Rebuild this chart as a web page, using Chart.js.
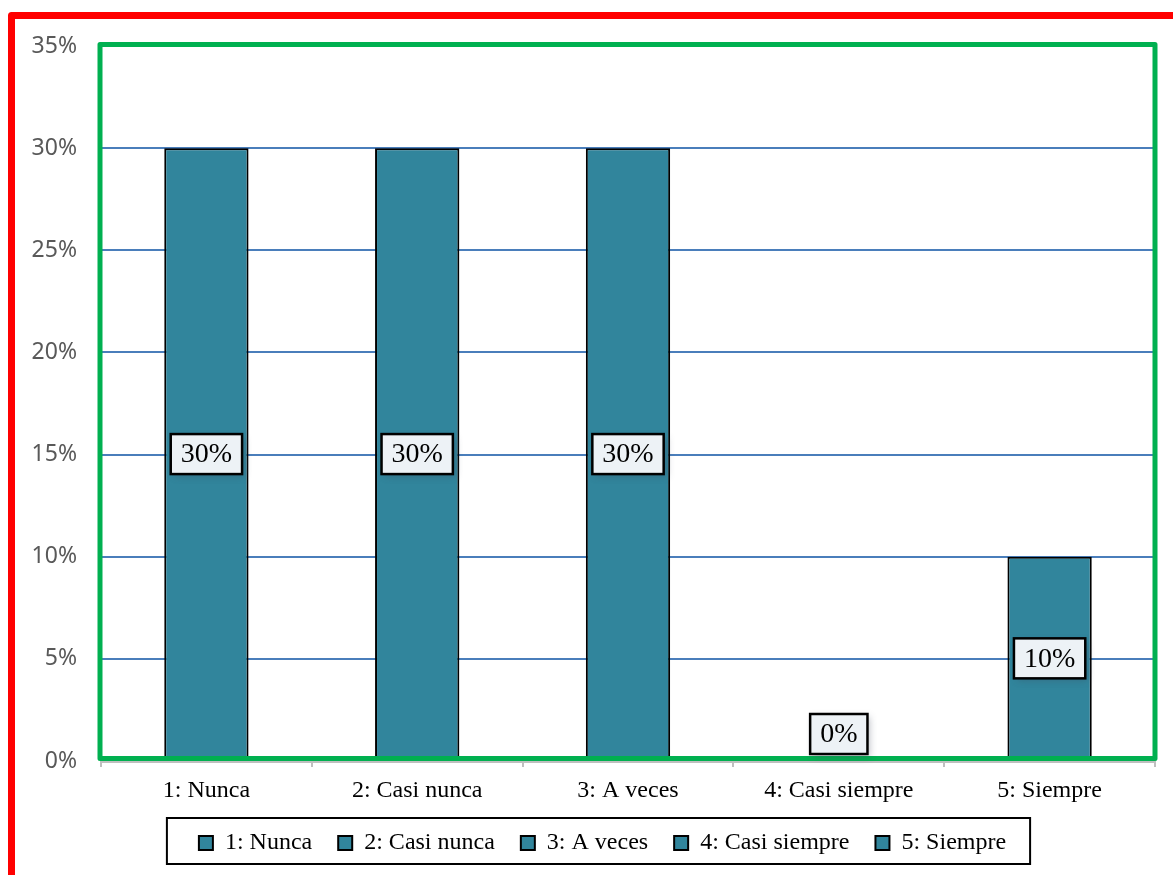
<!DOCTYPE html>
<html>
<head>
<meta charset="utf-8">
<script src="https://cdn.jsdelivr.net/npm/chart.js@4.4.1/dist/chart.umd.min.js"></script>
<style>
  html, body { margin: 0; padding: 0; background: #fff; }
  canvas { display: block; }
</style>
</head>
<body>
<canvas id="chart" width="1173" height="875"></canvas>
<script>
const categories = ["1: Nunca", "2: Casi nunca", "3: A veces", "4: Casi siempre", "5: Siempre"];
const percentages = [30, 30, 30, 0, 10];
const yTicks = [0, 5, 10, 15, 20, 25, 30, 35];

const barColor = '#31859C';
const serif = "'Liberation Serif', 'Times New Roman', serif";

// red outer frame, green plot frame, and boxed value labels
const framePlugin = {
  id: 'frames',
  afterLayout(chart) {
    // legend sits a bit right of the canvas centre in the original
    chart.legend.left += 50;
  },
  beforeDraw(chart) {
    const ctx = chart.ctx;
    ctx.save();
    ctx.strokeStyle = '#FF0000';
    ctx.lineWidth = 7;
    ctx.lineJoin = 'round';
    ctx.strokeRect(11.5, 15.5, 1300, 1000);
    ctx.restore();
  },
  afterDatasetsDraw(chart) {
    const ctx = chart.ctx;
    const ca = chart.chartArea;
    ctx.save();
    ctx.strokeStyle = '#00B050';
    ctx.lineWidth = 5;
    ctx.lineJoin = 'round';
    ctx.strokeRect(ca.left - 1, ca.top - 1.5, ca.right - ca.left + 1, ca.bottom - ca.top - 1);
    ctx.restore();

    // value labels
    const meta = chart.getDatasetMeta(0);
    ctx.save();
    ctx.font = '28px ' + serif;
    ctx.textAlign = 'center';
    ctx.textBaseline = 'middle';
    meta.data.forEach((bar, i) => {
      const v = percentages[i];
      const txt = v + '%';
      const w = ctx.measureText(txt).width + 20;
      const h = 40;
      const cx = bar.x;
      const cy = v > 0 ? (bar.y + bar.base) / 2 : bar.base - 27;
      ctx.save();
      ctx.shadowColor = 'rgba(60,70,90,0.35)';
      ctx.shadowBlur = 7;
      ctx.shadowOffsetX = 3;
      ctx.shadowOffsetY = 3;
      ctx.fillStyle = '#EDF2F6';
      ctx.fillRect(cx - w / 2, cy - h / 2, w, h);
      ctx.restore();
      ctx.strokeStyle = '#000';
      ctx.lineWidth = 2.5;
      ctx.strokeRect(cx - w / 2, cy - h / 2, w, h);
      ctx.fillStyle = '#000';
      ctx.fillText(txt, cx, cy + 1);
    });
    ctx.restore();
  },
  afterDraw(chart) {
    // border round the legend items
    const boxes = chart.legend.legendHitBoxes;
    if (!boxes || !boxes.length) return;
    const left = Math.min(...boxes.map(b => b.left));
    const right = Math.max(...boxes.map(b => b.left + b.width));
    const ctx = chart.ctx;
    ctx.save();
    ctx.strokeStyle = '#000';
    ctx.lineWidth = 2;
    ctx.strokeRect(left - 32, 818, right - left + 56, 46);
    ctx.restore();
  }
};

new Chart(document.getElementById('chart'), {
  type: 'bar',
  data: {
    labels: categories,
    datasets: [{
      data: percentages,
      backgroundColor: barColor,
      borderColor: '#000',
      borderWidth: 2,
      barPercentage: 0.4,
      categoryPercentage: 1
    }]
  },
  options: {
    responsive: false,
    animation: false,
    devicePixelRatio: 1,
    layout: { padding: { left: 0, top: 46, right: 18, bottom: 10 } },
    scales: {
      x: {
        afterFit: s => { s.height = 44; },
        grid: {
          drawOnChartArea: false,
          drawTicks: true,
          tickLength: 6,
          color: '#BFBFBF',
          lineWidth: 2
        },
        border: { display: true, color: '#BFBFBF', width: 3 },
        ticks: {
          padding: 9,
          color: '#000',
          font: { family: serif, size: 24 }
        }
      },
      y: {
        min: 0,
        max: 35,
        afterFit: s => { s.width = 101; },
        afterBuildTicks: s => { s.ticks = yTicks.map(v => ({ value: v })); },
        grid: {
          drawTicks: false,
          color: c => (c.tick && (c.tick.value === 0 || c.tick.value === 35)) ? 'rgba(0,0,0,0)' : '#4A7EBB',
          lineWidth: 2
        },
        border: { display: false },
        ticks: {
          padding: 24,
          color: '#595959',
          font: { family: "'Noto Sans', sans-serif", size: 23 },
          callback: v => v + '%'
        }
      }
    },
    plugins: {
      tooltip: { enabled: false },
      legend: {
        position: 'bottom',
        onClick: () => {},
        labels: {
          font: { family: serif, size: 24 },
          color: '#7F7F7F',
          boxWidth: 14,
          boxHeight: 14,
          padding: 26,
          generateLabels: () => categories.map((c, i) => ({
            text: c,
            fillStyle: barColor,
            strokeStyle: '#000',
            lineWidth: 2,
            hidden: false,
            index: i
          }))
        }
      }
    }
  },
  plugins: [framePlugin]
});
</script>
</body>
</html>
